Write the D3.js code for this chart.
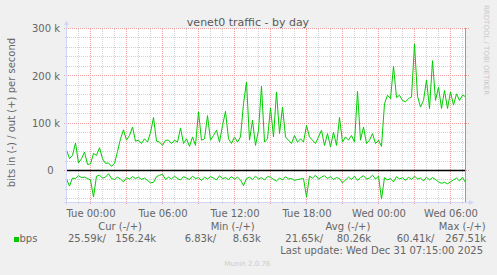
<!DOCTYPE html>
<html><head><meta charset="utf-8">
<script src="https://cdn.jsdelivr.net/npm/d3@7/dist/d3.min.js"></script>
<style>
html,body{margin:0;padding:0;background:#F0F0F0;}
svg{display:block;font-family:"DejaVu Sans",sans-serif;}
</style></head><body>
<svg id="c" width="497" height="275"></svg>
<script>
// ---------------- data ----------------
const title = "venet0 traffic - by day";
const yLabel = "bits in (-) / out (+) per second";
const seriesName = "bps";
const startTime = "2025-12-29T22:00:00Z";   // first sample
const endTime = "2025-12-31T07:20:00Z";     // right edge of graph
const stepMinutes = 15;
// out (+) in k bits/s
const outValues = [
  43, 25, 32, 58, 16, 25, 39, 13, 14, 36,
  32, 48, 25, 15, 16, 8.63, 15, 40, 67, 86,
  64, 74, 92, 62, 64, 57, 67, 60, 80, 112,
  62, 60, 53, 64, 64, 57, 64, 60, 90, 57,
  67, 51, 71, 53, 124, 64, 67, 116, 64, 74,
  85, 60, 95, 125, 67, 57, 71, 60, 71, 141,
  187, 64, 106, 53, 85, 178, 60, 67, 132, 71,
  166, 78, 134, 71, 64, 57, 74, 60, 67, 60,
  95, 71, 64, 57, 71, 85, 53, 78, 50, 81,
  53, 112, 60, 71, 64, 74, 60, 167, 64, 92,
  57, 64, 78, 57, 64, 51, 141, 159, 152, 220,
  154, 159, 148, 145, 152, 155, 267.51, 157, 134, 148,
  191, 131, 232, 148, 176, 131, 169, 131, 166, 138,
  162, 148, 159, 156.24
];
// in (-) in k bits/s (drawn below zero)
const inValues = [
  18, 33, 16, 17, 11, 15, 14, 17, 20, 56,
  12, 10, 16, 14, 6.83, 17, 19, 14, 18, 24,
  15, 18, 13, 17, 14, 19, 16, 21, 26, 25,
  13, 10, 8, 19, 14, 18, 12, 17, 20, 13,
  16, 19, 12, 17, 15, 21, 14, 18, 13, 16,
  20, 11, 17, 15, 19, 13, 18, 14, 20, 32,
  17, 14, 19, 12, 18, 15, 20, 13, 14, 19,
  22, 16, 20, 13, 18, 17, 21, 19, 18, 17,
  56, 12, 16, 10, 18, 14, 11, 17, 13, 19,
  15, 17, 26, 20, 14, 19, 12, 21, 15, 11,
  18, 16, 10, 18, 12, 60.41, 15, 20, 17, 24,
  13, 18, 15, 21, 14, 19, 12, 18, 16, 22,
  14, 20, 15, 19, 24, 27, 25, 28, 24, 20,
  16, 22, 14, 25.59
];
const xTickTimes = ["2025-12-30T00:00:00Z","2025-12-30T06:00:00Z","2025-12-30T12:00:00Z",
                    "2025-12-30T18:00:00Z","2025-12-31T00:00:00Z","2025-12-31T06:00:00Z"];
const xTickLabels = ["Tue 00:00","Tue 06:00","Tue 12:00","Tue 18:00","Wed 00:00","Wed 06:00"];
const yTickValues = [0, 100, 200, 300];
const yTickLabels = ["0", "100 k", "200 k", "300 k"];
const yDomain = [-67.6, 300];
const legendHeaders = ["Cur (-/+)", "Min (-/+)", "Avg (-/+)", "Max (-/+)"];
const legendValues = ["25.59k/", "156.24k", "6.83k/", "8.63k", "21.65k/", "80.26k", "60.41k/", "267.51k"];
const lastUpdate = "Last update: Wed Dec 31 07:15:00 2025";
const watermark = "RRDTOOL / TOBI OETIKER";
const footer = "Munin 2.0.76";

// ---------------- layout ----------------
const L = 66.5, R = 466.5, T = 28.5, B = 202.5;
const svg = d3.select("#c");
const green = "#00CC00", fontCol = "#666666", axisCol = "#CFD6F8";

const t0 = new Date(startTime);
const x = d3.scaleUtc().domain([t0, new Date(endTime)]).range([L, R]);
const y = d3.scaleLinear().domain(yDomain).range([B, T]);
const times = outValues.map((_, i) => new Date(t0.getTime() + i * stepMinutes * 60000));

svg.append("rect").attr("width", 497).attr("height", 275).attr("fill", "#F0F0F0");
svg.append("rect").attr("x", 66).attr("y", 28).attr("width", 400).attr("height", 175).attr("fill", "#FFFFFF");

const snap = v => Math.floor(v) + 0.5;
const grid = svg.append("g").attr("shape-rendering", "crispEdges");
// vertical grid
const hours = d3.utcHour.range(d3.utcHour.ceil(x.domain()[0]), x.domain()[1]);
hours.forEach(h => {
  const major = h.getUTCHours() % 3 === 0;
  const xx = snap(x(h));
  grid.append("line").attr("x1", xx).attr("x2", xx).attr("y1", T).attr("y2", B + 2.5)
    .attr("stroke", major ? "#F0A0A0" : "#D2D2D2").attr("stroke-dasharray", "1,1");
});
// horizontal grid
d3.range(-60, 301, 20).forEach(v => {
  const major = v % 100 === 0;
  const yy = snap(y(v));
  grid.append("line").attr("x1", major ? L - 2.5 : L - 1.5).attr("x2", major ? R + 2 : R + 1)
    .attr("y1", yy).attr("y2", yy)
    .attr("stroke", major ? "#F0A0A0" : "#D2D2D2").attr("stroke-dasharray", "1,1");
});

// zero line
svg.append("line").attr("x1", L).attr("x2", R - 1).attr("y1", y(0)).attr("y2", y(0))
  .attr("stroke", "#000").attr("stroke-width", 1.4);

// data
svg.append("clipPath").attr("id", "clip").append("rect").attr("x", 66).attr("y", 20).attr("width", 400).attr("height", 185);
const line = d3.line().x((d, i) => x(times[i])).y(d => y(d));
const g = svg.append("g").attr("clip-path", "url(#clip)");
g.append("path").attr("d", line(outValues)).attr("fill", "none").attr("stroke", green).attr("stroke-width", 1);
g.append("path").attr("d", line(inValues.map(v => -v))).attr("fill", "none").attr("stroke", green).attr("stroke-width", 1);

// right frame line
svg.append("line").attr("x1", 465.5).attr("x2", 465.5).attr("y1", 28).attr("y2", 203)
  .attr("stroke", "#9A9A9A").attr("shape-rendering", "crispEdges");

// axes lines & arrows
svg.append("line").attr("x1", L).attr("x2", L).attr("y1", B + 2).attr("y2", 24)
  .attr("stroke", axisCol).attr("shape-rendering", "crispEdges");
svg.append("line").attr("x1", L - 3).attr("x2", 470).attr("y1", B).attr("y2", B)
  .attr("stroke", axisCol).attr("shape-rendering", "crispEdges");
svg.append("path").attr("d", `M${L - 2.5},25 L${L},20.5 L${L + 2.5},25 Z`).attr("fill", axisCol);
svg.append("path").attr("d", `M469,${B - 2.5} L474,${B} L469,${B + 2.5} Z`).attr("fill", axisCol);

// x axis labels
const xAxis = d3.axisBottom(x)
  .tickValues(xTickTimes.map(s => new Date(s)))
  .tickFormat((d, i) => xTickLabels[i])
  .tickSize(0).tickPadding(7);
const gx = svg.append("g").attr("transform", `translate(0,${B})`).call(xAxis);
gx.select(".domain").remove();
gx.selectAll("text").attr("fill", fontCol).attr("font-size", 10).attr("font-family", "DejaVu Sans");

// y axis labels
const yAxis = d3.axisLeft(y).tickValues(yTickValues)
  .tickFormat((d, i) => yTickLabels[i]).tickSize(0).tickPadding(6.5);
const gy = svg.append("g").attr("transform", `translate(${L},0)`).call(yAxis);
gy.select(".domain").remove();
gy.selectAll("text").attr("fill", fontCol).attr("font-size", 10).attr("font-family", "DejaVu Sans")
  .attr("x", d => d === 0 ? -13 : -6.5);

// title
svg.append("text").attr("x", 248).attr("y", 26).attr("text-anchor", "middle")
  .attr("font-size", 11).attr("fill", "#5a5a5a").text(title);

// y label
svg.append("text").attr("transform", "translate(14.8,112.5) rotate(-90)").attr("text-anchor", "middle")
  .attr("font-size", 10).attr("fill", fontCol).text(yLabel);

// watermark
svg.append("text").attr("transform", "translate(483.5,5) rotate(90)")
  .attr("font-size", 7).attr("fill", "#C8C8C8").text(watermark);

// legend
const hdrX = [98.2, 210.7, 325.5, 438.7];
legendHeaders.forEach((h, i) => svg.append("text").attr("x", hdrX[i]).attr("y", 230)
  .attr("font-size", 10).attr("fill", fontCol).text(h));
svg.append("rect").attr("x", 14).attr("y", 237).attr("width", 5).attr("height", 5).attr("fill", green);
svg.append("text").attr("x", 19.5).attr("y", 242).attr("font-size", 10).attr("fill", fontCol).text(seriesName);
const valX = [68, 115.3, 184.7, 232.7, 285.3, 336.7, 396.7, 445.3];
legendValues.forEach((v, i) => svg.append("text").attr("x", valX[i]).attr("y", 242)
  .attr("font-size", 10).attr("fill", fontCol).text(v));
svg.append("text").attr("x", 483).attr("y", 254).attr("text-anchor", "end")
  .attr("font-size", 10).attr("fill", fontCol).text(lastUpdate);
svg.append("text").attr("x", 224.5).attr("y", 266).attr("font-size", 7).attr("fill", "#CCCCCC").text(footer);
</script>
</body></html>
